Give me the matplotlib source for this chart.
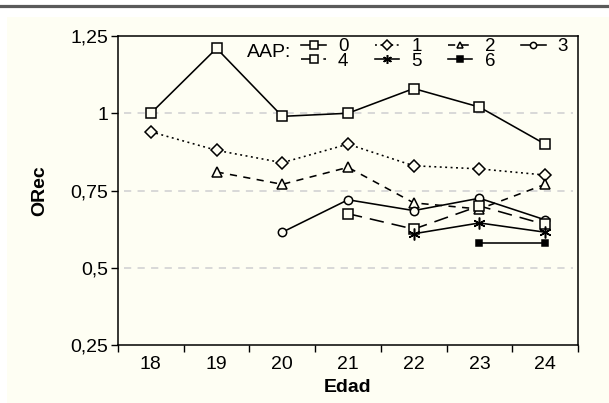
import numpy as np
import matplotlib
matplotlib.use('Agg')
import matplotlib.pyplot as plt
from matplotlib.patches import Rectangle
from matplotlib.lines import Line2D
from matplotlib.ticker import FixedLocator, FuncFormatter

plt.rcParams['font.family'] = ['Liberation Sans', 'DejaVu Sans']

# === Data ===
nan = np.nan
ages = ['18', '19', '20', '21', '22', '23', '24']
aap0 = [1.00, 1.21, 0.99, 1.00, 1.08, 1.02, 0.90]
aap1 = [0.94, 0.88, 0.84, 0.90, 0.83, 0.82, 0.80]
aap2 = [nan, 0.81, 0.77, 0.825, 0.71, 0.69, 0.77]
aap3 = [nan, nan, 0.615, 0.72, 0.685, 0.725, 0.655]
aap4 = [nan, nan, nan, 0.675, 0.625, 0.70, 0.64]
aap5 = [nan, nan, nan, nan, 0.61, 0.645, 0.615]
aap6 = [nan, nan, nan, nan, nan, 0.58, 0.58]
series = [aap0, aap1, aap2, aap3, aap4, aap5, aap6]
series_labels = ['0', '1', '2', '3', '4', '5', '6']
y_ticks = [0.25, 0.5, 0.75, 1.0, 1.25]

# === Styles ===
cream = '#fefef3'
styles = [
    dict(ls='-', marker='s', ms=7, mfc=cream),
    dict(ls=(0, (1.2, 2.2)), marker='D', ms=6.5, mfc=cream),
    dict(ls=(0, (4.5, 4)), marker='^', ms=6.5, mfc=cream),
    dict(ls='-', marker='o', ms=6, mfc=cream),
    dict(ls=(0, (9, 5)), marker='s', ms=7, mfc=cream),
    dict(ls='-', marker=(6, 2, 0), ms=8.5, mfc=cream),
    dict(ls='-', marker='s', ms=5, mfc='black'),
]

fig = plt.figure(figsize=(6.09, 4.03), dpi=100)
fig.patch.set_facecolor('white')
fig.patches.append(Rectangle((7 / 609, 0), 1, 1 - 17 / 403, transform=fig.transFigure,
                             facecolor=cream, edgecolor='none', zorder=-2))
fig.lines.append(Line2D([0, 1], [1 - 6 / 403] * 2, transform=fig.transFigure,
                        color='#5a5a5a', lw=2.3, zorder=-1))

ax = fig.add_axes([118 / 609, 1 - 345 / 403, (578 - 118) / 609, (345 - 36) / 403])
ax.set_facecolor(cream)

x = np.arange(len(ages))
handles = []
for vals, st, lab in zip(series, styles, series_labels):
    h, = ax.plot(x, vals, color='black', lw=1.15, ls=st['ls'], marker=st['marker'],
                 ms=st['ms'], mfc=st['mfc'], mec='black', mew=1.1, label=lab, zorder=3)
    handles.append(h)

for v in [0.5, 0.75, 1.0]:
    ax.axhline(v, xmin=0.012, xmax=0.99, color='#d6d6d6', lw=1.3, ls=(0, (4, 3.5)), zorder=1)

ax.set_xlim(-0.5, len(ages) - 0.5)
ax.set_ylim(0.25, 1.25)
ax.xaxis.set_major_locator(FixedLocator(np.arange(-0.5, len(ages), 1.0)))
ax.xaxis.set_major_formatter(FuncFormatter(lambda v, p: ''))
ax.xaxis.set_minor_locator(FixedLocator(x))
ax.xaxis.set_minor_formatter(FuncFormatter(lambda v, p: ages[int(round(v))]))
ax.tick_params(axis='x', which='minor', length=0, pad=8, labelsize=14)
ax.tick_params(axis='x', which='major', length=5, width=1)
ax.set_yticks(y_ticks)
ax.yaxis.set_major_formatter(FuncFormatter(lambda v, p: format(v, 'g').replace('.', ',')))
ax.tick_params(axis='y', length=5, width=1, labelsize=14, pad=2)
for s in ax.spines.values():
    s.set_linewidth(1.1)

ax.set_xlabel('Edad', fontsize=14, fontweight='bold', labelpad=4)
ax.set_ylabel('ORec', fontsize=14, fontweight='bold', labelpad=16)

order = [0, 4, 1, 5, 2, 6, 3]
leg = ax.legend([handles[i] for i in order], [series_labels[i] for i in order],
                ncol=4, frameon=False, fontsize=13.5, loc='upper left',
                bbox_to_anchor=(0.37, 1.036), handlelength=1.3, handletextpad=0.65,
                columnspacing=1.4, labelspacing=-0.12, markerscale=0.75,
                borderpad=0.2)
ax.text(0.281, 0.947, 'AAP:', transform=ax.transAxes, fontsize=14, va='center', ha='left')

fig.savefig('out.png', dpi=100, facecolor=fig.get_facecolor())
